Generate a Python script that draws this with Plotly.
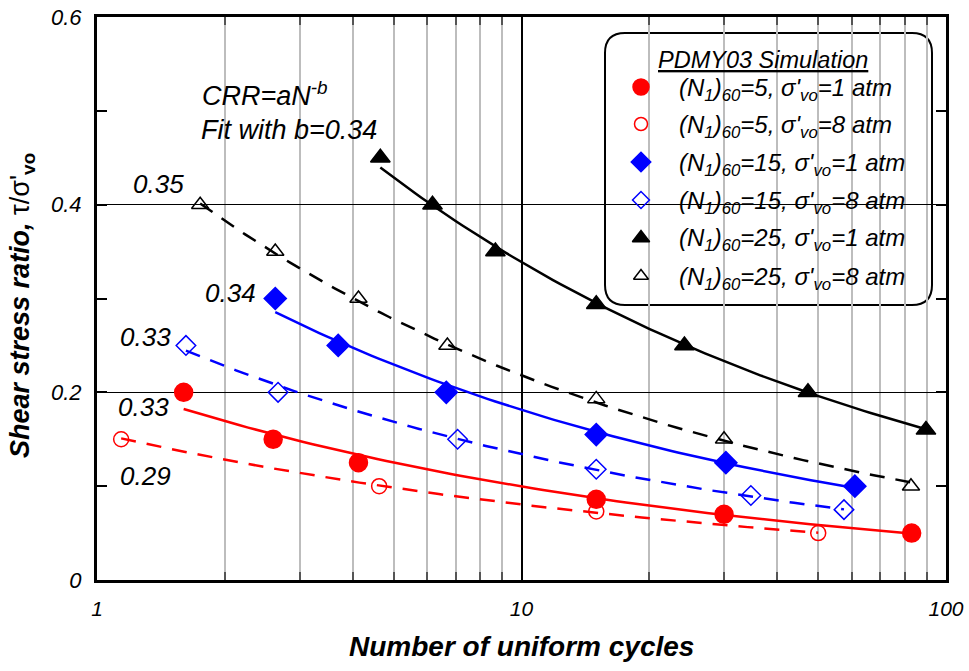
import numpy as np
import plotly.graph_objects as go

# ---------------- data ----------------
red_fill_N = [1.6, 2.6, 4.13, 15.0, 30.0, 83.0]
red_fill_y = [0.20, 0.15, 0.125, 0.086, 0.07, 0.05]
red_open_N = [1.14, 4.62, 15.0, 50.0]
red_open_y = [0.15, 0.10, 0.073, 0.05]
blue_fill_N = [2.63, 3.7, 6.65, 15.0, 30.3, 61.0]
blue_fill_y = [0.30, 0.25, 0.20, 0.155, 0.125, 0.10]
blue_open_N = [1.62, 2.67, 7.07, 15.0, 34.7, 57.5]
blue_open_y = [0.25, 0.20, 0.15, 0.118, 0.09, 0.075]
black_fill_N = [4.65, 6.17, 8.68, 15.0, 24.2, 47.3, 89.7]
black_fill_y = [0.45, 0.40, 0.35, 0.294, 0.25, 0.20, 0.16]
black_open_N = [1.75, 2.63, 4.13, 6.69, 15.0, 30.0, 82.7]
black_open_y = [0.40, 0.35, 0.30, 0.25, 0.193, 0.15, 0.10]

# fitted exponents b (CRR = a N^-b), as annotated on the chart
b_values = [0.33, 0.29, 0.34, 0.33, 0.34, 0.35]
b_labels = ["0.33", "0.29", "0.34", "0.33", None, "0.35"]

legend_title = "PDMY03 Simulation"
legend_labels = [
    "(N<sub>1</sub>)<sub>60</sub>=5, σ'<sub>vo</sub>=1 atm",
    "(N<sub>1</sub>)<sub>60</sub>=5, σ'<sub>vo</sub>=8 atm",
    "(N<sub>1</sub>)<sub>60</sub>=15, σ'<sub>vo</sub>=1 atm",
    "(N<sub>1</sub>)<sub>60</sub>=15, σ'<sub>vo</sub>=8 atm",
    "(N<sub>1</sub>)<sub>60</sub>=25, σ'<sub>vo</sub>=1 atm",
    "(N<sub>1</sub>)<sub>60</sub>=25, σ'<sub>vo</sub>=8 atm",
]

x_tick_vals = [1, 10, 100]
x_tick_text = ["1", "10", "100"]
y_tick_vals = [0, 0.2, 0.4, 0.6]
y_tick_text = ["0", "0.2", "0.4", "0.6"]
x_title = "Number of uniform cycles"
y_title = "<b><i>Shear stress ratio, </i></b>τ/σ'<sub><b>vo</b></sub>"

# ---------------- styling ----------------
FONT = "Liberation Sans, Arial, sans-serif"
series = [
    (red_fill_N, red_fill_y, "red", "circle", 18, "solid"),
    (red_open_N, red_open_y, "red", "circle-open", 15, "15px,11px"),
    (blue_fill_N, blue_fill_y, "blue", "diamond", 17, "solid"),
    (blue_open_N, blue_open_y, "blue", "diamond-open", 15, "15px,11px"),
    (black_fill_N, black_fill_y, "black", "triangle-up", 17, "solid"),
    (black_open_N, black_open_y, "black", "triangle-up-open", 15, "15px,11px"),
]

fig = go.Figure()

# fit curves (a fitted from the points with fixed b, least squares in log space)
for (N, y, col, sym, sz, dash), b in zip(series, b_values):
    N = np.array(N); y = np.array(y)
    a = np.exp(np.mean(np.log(y) + b * np.log(N)))
    Nf = np.logspace(np.log10(N.min()), np.log10(N.max()), 80)
    fig.add_trace(go.Scatter(x=Nf, y=a * Nf ** (-b), mode="lines",
                             line=dict(color=col, width=2.5, dash=dash),
                             hoverinfo="skip", showlegend=False))

# points
for (N, y, col, sym, sz, dash), lab in zip(series, legend_labels):
    fig.add_trace(go.Scatter(x=N, y=y, mode="markers", name=lab,
                             marker=dict(symbol=sym, size=sz, color=col,
                                         line=dict(color=col, width=1.5)),
                             showlegend=False))

# ---------------- layout geometry ----------------
L, R, T, B = 97, 946, 17, 580
W, H = 969, 671
def px2paper(px, py):
    return (px - L) / (R - L), (B - py) / (B - T)

def note(px, py, text, size, xanchor="center", **kw):
    x, y = px2paper(px, py)
    d = dict(x=x, y=y, xref="paper", yref="paper", text=text, showarrow=False,
             xanchor=xanchor, yanchor="middle",
             font=dict(size=size, family=FONT, color="black", **kw))
    return d

# legend box (rounded)
x0, y0 = px2paper(605, 305)
x1, y1 = px2paper(932, 33)
rx = 20 / (R - L); ry = 20 / (B - T)
path = (f"M {x0+rx},{y0} L {x1-rx},{y0} Q {x1},{y0} {x1},{y0+ry} "
        f"L {x1},{y1-ry} Q {x1},{y1} {x1-rx},{y1} L {x0+rx},{y1} "
        f"Q {x0},{y1} {x0},{y1-ry} L {x0},{y0+ry} Q {x0},{y0} {x0+rx},{y0} Z")
fig.add_shape(type="path", path=path, xref="paper", yref="paper",
              line=dict(color="black", width=2), fillcolor="white", layer="between")

annotations = [note(763, 60, f"<u>{legend_title}</u>", 23.5, style="italic")]
entry_py = [87, 124, 162, 200, 238, 276]
leg_mx, leg_my = [], []
for lab, py in zip(legend_labels, entry_py):
    mx, my = px2paper(641, py)
    leg_mx.append(10 ** (2 * mx)); leg_my.append(0.6 * my)
    annotations.append(note(677, py + 2, lab, 24, xanchor="left", style="italic"))
for (N, y, col, sym, sz, dash), mxv, myv in zip(series, leg_mx, leg_my):
    fig.add_trace(go.Scatter(x=[mxv], y=[myv], mode="markers", hoverinfo="skip",
                             marker=dict(symbol=sym, size=sz - 2, color=col,
                                         line=dict(color=col, width=1.5)),
                             showlegend=False))

# b labels
label_pos = [(143, 406), (145, 475), (230, 292), (145, 336), None, (158, 183)]
for lab, pos in zip(b_labels, label_pos):
    if lab is None:
        continue
    annotations.append(note(pos[0], pos[1] + 1, lab, 26, style="italic"))

annotations.append(note(200, 94, "CRR=aN<sup>-b</sup>", 27, xanchor="left", style="italic"))
annotations.append(note(199, 130, "Fit with b=0.34", 27, xanchor="left", style="italic"))

# axis titles
annotations.append(note(521, 646, f"<b><i>{x_title}</i></b>", 28))
yt = note(22, 306, y_title, 27)
yt["textangle"] = -90
annotations.append(yt)

minor_x = [2, 3, 4, 5, 6, 7, 8, 9, 20, 30, 40, 50, 60, 70, 80, 90]

fig.update_layout(
    width=W, height=H,
    margin=dict(l=L, r=W - R, t=T, b=H - B, autoexpand=False),
    plot_bgcolor="white", paper_bgcolor="white",
    showlegend=False,
    annotations=annotations,
    font=dict(family=FONT, color="black"),
    xaxis=dict(type="log", range=[0, 2], tickmode="array", tickvals=x_tick_vals,
               ticktext=x_tick_text, ticks="inside", ticklen=10, tickwidth=2,
               tickcolor="black", showline=True, linecolor="black", linewidth=3,
               mirror="ticks", showgrid=True, gridcolor="black", gridwidth=2,
               zeroline=False, automargin=False, ticklabelstandoff=8,
               tickfont=dict(size=21, family=FONT, style="italic"),
               minor=dict(tickmode="array", tickvals=minor_x, ticks="inside",
                          ticklen=8, tickwidth=1.5, tickcolor="#555",
                          showgrid=True, gridcolor="#bdbdbd", gridwidth=1.5)),
    yaxis=dict(range=[0, 0.6], tickmode="array", tickvals=y_tick_vals,
               ticktext=y_tick_text, ticks="inside", ticklen=10, tickwidth=2,
               tickcolor="black", showline=True, linecolor="black", linewidth=3,
               mirror="ticks", showgrid=True, gridcolor="black", gridwidth=1,
               zeroline=False, automargin=False, ticklabelstandoff=8,
               tickfont=dict(size=22, family=FONT, style="italic"),
               minor=dict(dtick=0.1, tick0=0, ticks="inside", ticklen=10,
                          tickwidth=2, tickcolor="black", showgrid=False)),
)

fig.write_html("out.html")
